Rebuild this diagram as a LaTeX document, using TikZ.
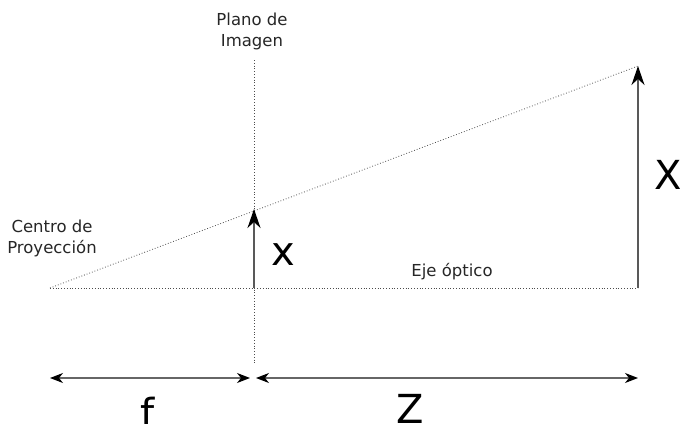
\documentclass[tikz,border=0pt]{standalone}
\usepackage{fontspec}
\setmainfont{DejaVu Sans}
\usetikzlibrary{arrows.meta}
\begin{document}
\begin{tikzpicture}[x=1pt,y=-1pt,
  dotline/.style={dotted, line width=0.8pt, black!70},
  vec/.style={line width=1.6pt, black!65, -{Stealth[length=19pt,width=13pt,inset=6pt,black]}},
  dim/.style={line width=1.2pt, black!60, {Stealth[length=13pt,width=10pt,inset=4pt,black]}-{Stealth[length=13pt,width=10pt,inset=4pt,black]}},
  small/.style={font=\fontsize{16.5}{21}\selectfont, text=black!85, align=center},
  big/.style={font=\fontsize{40}{40}\selectfont, inner sep=0pt}]
\useasboundingbox (0,0) rectangle (680,423);
\coordinate (C) at (50,288);
\coordinate (Pt) at (254,60);
\coordinate (Pb) at (254,365);
\coordinate (I) at (254,288);
\coordinate (It) at (254,209);
\coordinate (O) at (638,288);
\coordinate (Ot) at (638,66);
\draw[dotline] (Pt) -- (Pb);
\draw[dotline] (C) -- (O);
\draw[dotline] (C) -- (Ot);
\draw[vec] (I) -- (It);
\draw[vec] (O) -- (Ot);
\node[small] (plano) at (252,31) {Plano de\\Imagen};
\node[small] (centro) at (52,238) {Centro de\\Proyección};
\node[small] (eje) at (452,272) {Eje óptico};
\node[big] (x) at (283,255) {x};
\node[big] (X) at (668,175) {X};
\coordinate (fa) at (50,378);
\coordinate (fb) at (250,378);
\coordinate (za) at (256,378);
\coordinate (zb) at (638,378);
\draw[dim] (fa) -- (fb);
\draw[dim] (za) -- (zb);
\node[big] (f) at (148,412) {f};
\node[big] (Z) at (410,409) {Z};
\end{tikzpicture}
\end{document}
